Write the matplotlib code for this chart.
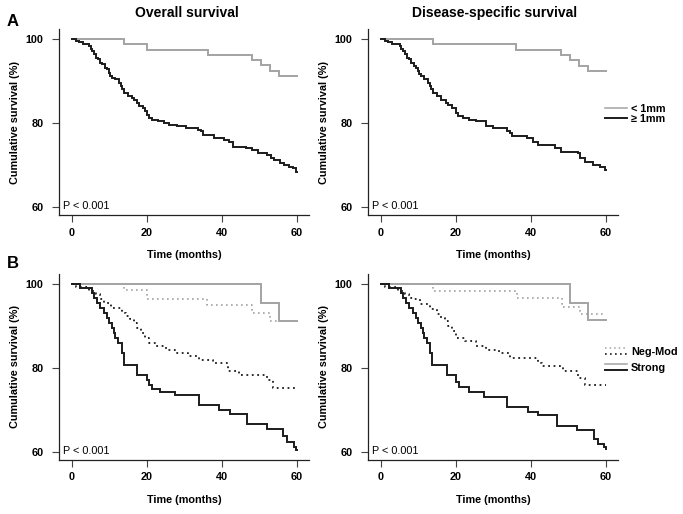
import matplotlib
matplotlib.use("Agg")
import numpy as np
import matplotlib.pyplot as plt
from matplotlib.lines import Line2D
from matplotlib.legend_handler import HandlerBase

plt.rcParams['font.family'] = ['Liberation Sans', 'DejaVu Sans']

END_TIME = 60

# ---- panel A, overall survival ----
os_thin_t = [0, 14.0, 20.0, 36.2, 48.0, 50.5, 52.7, 55.1]
os_thin_s = [100, 98.8, 97.5, 96.3, 95.0, 93.8, 92.5, 91.2]
os_thick_t = [0, 1.0, 2.0, 3.0, 4.5, 5.0, 5.5, 6.0, 6.5, 7.0, 7.5, 8.0, 8.8, 9.3, 9.8,
              10.3, 10.8, 11.5, 12.5, 13.0, 13.5, 14.0, 15.0, 16.0, 16.5, 17.5, 18.0, 19.0,
              19.5, 20.0, 20.5, 21.5, 23.0, 24.5, 26.0, 28.0, 30.5, 33.5, 34.5, 35.0, 38.0,
              40.5, 42.0, 43.0, 46.5, 48.0, 49.5, 52.0, 53.0, 54.0, 55.5, 56.5, 58.0, 59.0, 59.8]
os_thick_s = [100, 99.6, 99.2, 98.8, 98.4, 97.6, 97.2, 96.4, 95.6, 95.2, 94.4, 94.0, 93.2,
              92.8, 92.0, 91.2, 90.8, 90.4, 89.6, 88.8, 88.0, 87.2, 86.4, 86.0, 85.6, 84.8,
              84.0, 83.6, 82.8, 82.0, 81.2, 80.8, 80.4, 80.0, 79.6, 79.2, 78.8, 78.4, 78.0,
              77.2, 76.4, 76.0, 75.6, 74.4, 74.0, 73.6, 72.8, 72.4, 71.6, 71.2, 70.4, 70.0,
              69.6, 69.2, 68.4]

# ---- panel A, disease-specific survival ----
dss_thin_t = [0, 13.9, 36.1, 48.1, 50.5, 52.9, 55.1]
dss_thin_s = [100, 98.8, 97.5, 96.3, 95.0, 93.7, 92.4]
dss_thick_t = [0, 1.0, 2.0, 3.0, 5.0, 5.5, 6.0, 6.5, 7.0, 7.5, 8.0, 8.8, 9.3, 9.8, 10.3,
               10.8, 11.5, 12.5, 13.0, 13.5, 14.0, 15.0, 16.0, 17.5, 18.0, 19.0, 20.0, 20.5,
               22.0, 23.5, 25.5, 28.0, 30.0, 33.5, 34.5, 35.0, 39.0, 40.5, 42.0, 46.5, 48.0,
               52.5, 53.0, 54.5, 56.5, 58.5, 59.8]
dss_thick_s = [100, 99.6, 99.2, 98.8, 98.4, 97.6, 97.2, 96.4, 95.6, 95.2, 94.4, 93.6, 93.2,
               92.4, 91.6, 91.2, 90.4, 89.6, 88.8, 88.0, 87.2, 86.4, 85.6, 84.8, 84.4, 83.6,
               82.4, 81.6, 81.2, 80.8, 80.4, 79.2, 78.8, 78.0, 77.6, 76.8, 76.4, 75.6, 74.8,
               74.0, 73.2, 72.8, 71.6, 70.8, 70.0, 69.6, 68.8]

# ---- panel B, overall survival ----
os_strong_thin_t = [0, 50.5, 55.1]
os_strong_thin_s = [100, 95.6, 91.3]
os_neg_thin_t = [0, 13.8, 20.0, 36.0, 48.0, 52.8]
os_neg_thin_s = [100, 98.7, 96.4, 95.0, 93.1, 91.2]
os_neg_thick_t = [0, 1.0, 4.5, 6.5, 7.5, 8.5, 10.5, 13.5, 14.5, 15.5, 16.5, 17.5, 18.5,
                  19.5, 20.5, 22.5, 25.0, 27.5, 31.0, 34.0, 37.5, 41.5, 44.5, 52.0, 53.5]
os_neg_thick_s = [100, 99.2, 98.4, 97.6, 96.4, 95.6, 94.4, 93.2, 92.4, 91.6, 90.8, 89.6,
                  88.4, 87.2, 86.0, 85.2, 84.4, 83.6, 82.8, 82.0, 81.2, 79.2, 78.4, 77.2, 75.2]
os_strong_thick_t = [0, 2.2, 5.3, 6.0, 6.7, 7.6, 8.5, 9.3, 10.0, 10.7, 11.2, 11.6, 12.4,
                     13.3, 14.0, 17.3, 20.0, 20.5, 21.3, 23.6, 27.6, 33.8, 39.1, 42.2, 46.7,
                     52.0, 56.4, 57.3, 59.1, 59.8]
os_strong_thick_s = [100, 99.1, 97.9, 96.7, 95.5, 94.3, 93.1, 91.9, 90.7, 89.5, 88.3, 87.1,
                     85.9, 83.5, 80.7, 78.3, 77.1, 75.9, 75.1, 74.3, 73.5, 71.1, 69.9, 69.1,
                     66.7, 65.5, 63.9, 62.3, 61.1, 60.4]

# ---- panel B, disease-specific survival ----
dss_strong_thin_t = [0, 50.5, 55.1]
dss_strong_thin_s = [100, 95.6, 91.4]
dss_neg_thin_t = [0, 13.9, 36.3, 48.3, 53.2]
dss_neg_thin_s = [100, 98.4, 96.6, 94.6, 92.8]
dss_neg_thick_t = [0, 1.0, 4.5, 6.5, 7.5, 8.5, 10.5, 13.0, 15.0, 16.0, 17.0, 18.0, 19.0,
                   20.0, 22.5, 25.5, 28.0, 31.5, 34.5, 42.0, 43.0, 48.5, 52.5, 54.5]
dss_neg_thick_s = [100, 99.2, 98.4, 97.6, 96.8, 96.4, 95.2, 94.0, 92.8, 92.0, 91.2, 90.0,
                   88.8, 87.2, 86.4, 85.2, 84.4, 83.6, 82.4, 81.2, 80.4, 79.2, 77.6, 76.0]
dss_strong_thick_t = [0, 2.2, 5.3, 6.0, 6.7, 7.6, 8.5, 9.3, 10.0, 10.7, 11.2, 11.6, 12.4,
                      13.2, 13.7, 17.7, 20.0, 20.8, 23.4, 27.4, 33.6, 39.3, 42.0, 46.9, 52.3,
                      56.7, 58.0, 59.4, 59.9]
dss_strong_thick_s = [100, 99.1, 97.9, 96.7, 95.5, 94.3, 93.1, 91.9, 90.7, 89.5, 88.3, 87.1,
                      85.9, 83.5, 80.7, 78.3, 76.7, 75.5, 74.3, 73.1, 70.7, 69.5, 68.7, 66.3,
                      65.2, 63.2, 62.0, 61.2, 60.8]

titles = ['Overall survival', 'Disease-specific survival']
legend_a = ['< 1mm', '\u2265 1mm']
legend_b = ['Neg-Mod', 'Strong']
p_text = 'P < 0.001'

GREY = '#a3a3a3'
DARK = '#1c1c1c'
DOTS = (0, (1, 2))
W, H = 683, 514


def km(ax, t, s, color, ls='-', lw=1.4):
    tt = np.append(t, END_TIME)
    ss = np.append(s, s[-1])
    ax.step(tt, ss, where='post', color=color, ls=ls, lw=lw, solid_joinstyle='miter')


def style(ax):
    ax.set_xlim(-3.4, 63.2)
    ax.set_ylim(58.1, 102.4)
    ax.set_xticks([0, 20, 40, 60])
    ax.set_yticks([60, 80, 100])
    for side in ['top', 'right']:
        ax.spines[side].set_visible(False)
    for side in ['left', 'bottom']:
        ax.spines[side].set_linewidth(0.9)
        ax.spines[side].set_color('#222222')
    ax.tick_params(direction='out', length=5, width=0.8, color='#444444',
                   labelsize=7.8)
    ax.tick_params(axis='y', pad=6)
    ax.tick_params(axis='x', pad=4)
    for lab in ax.get_xticklabels() + ax.get_yticklabels():
        lab.set_fontweight('bold')
    ax.set_xlabel('Time (months)', fontsize=7.8, fontweight='bold')
    ax.set_ylabel('Cumulative survival (%)', fontsize=7.8, fontweight='bold')
    ax.xaxis.set_label_coords(0.5, -0.19)
    ax.yaxis.set_label_coords(-0.156, 0.5)
    ax.text(0.016, 0.03, p_text, transform=ax.transAxes, fontsize=7.8, va='baseline')


class Stacked(HandlerBase):
    def create_artists(self, legend, orig_handle, xdescent, ydescent, width,
                       height, fontsize, trans):
        arts = []
        yc = height / 2 - ydescent
        offs = [2.0, -2.0]
        for h, off in zip(orig_handle, offs):
            ln = Line2D([-xdescent, width - xdescent], [yc + off, yc + off])
            ln.update_from(h)
            ln.set_transform(trans)
            arts.append(ln)
        return arts


fig = plt.figure(figsize=(W / 100, H / 100), dpi=100)

lefts = [59, 368]
tops = [29, 274]
axes = {}
for r, top in enumerate(tops):
    for c, left in enumerate(lefts):
        ax = fig.add_axes([left / W, 1 - (top + 186) / H, 250 / W, 186 / H])
        axes[(r, c)] = ax

km(axes[(0, 0)], os_thin_t, os_thin_s, GREY)
km(axes[(0, 0)], os_thick_t, os_thick_s, DARK)
km(axes[(0, 1)], dss_thin_t, dss_thin_s, GREY)
km(axes[(0, 1)], dss_thick_t, dss_thick_s, DARK)

km(axes[(1, 0)], os_strong_thin_t, os_strong_thin_s, GREY)
km(axes[(1, 0)], os_neg_thin_t, os_neg_thin_s, GREY, DOTS, 1.2)
km(axes[(1, 0)], os_neg_thick_t, os_neg_thick_s, DARK, DOTS, 1.3)
km(axes[(1, 0)], os_strong_thick_t, os_strong_thick_s, DARK)
km(axes[(1, 1)], dss_strong_thin_t, dss_strong_thin_s, GREY)
km(axes[(1, 1)], dss_neg_thin_t, dss_neg_thin_s, GREY, DOTS, 1.2)
km(axes[(1, 1)], dss_neg_thick_t, dss_neg_thick_s, DARK, DOTS, 1.3)
km(axes[(1, 1)], dss_strong_thick_t, dss_strong_thick_s, DARK)

for ax in axes.values():
    style(ax)

# legends
h_thin = Line2D([], [], color=GREY, lw=1.1)
h_thick = Line2D([], [], color=DARK, lw=1.4)
leg = axes[(0, 1)].legend([h_thin, h_thick], legend_a, loc='center left',
                          bbox_to_anchor=(0.948, 0.543), frameon=False, borderpad=0,
                          borderaxespad=0, handlelength=2.0, handletextpad=0.4,
                          labelspacing=0.05, prop={'weight': 'bold', 'size': 7.8})

hb_neg = (Line2D([], [], color=GREY, lw=1.1, ls=DOTS), Line2D([], [], color=DARK, lw=1.2, ls=DOTS))
hb_str = (Line2D([], [], color=GREY, lw=1.1), Line2D([], [], color=DARK, lw=1.4))
axes[(1, 1)].legend([hb_neg, hb_str], legend_b, loc='center left',
                    bbox_to_anchor=(0.948, 0.54), frameon=False, borderpad=0,
                    borderaxespad=0, handlelength=2.0, handletextpad=0.4,
                    labelspacing=0.5, handleheight=0.9,
                    handler_map={tuple: Stacked()},
                    prop={'weight': 'bold', 'size': 7.8})

# titles and panel letters
fig.text(187 / W, 1 - 17 / H, titles[0], ha='center', va='baseline',
         fontsize=10, fontweight='bold')
fig.text(495 / W, 1 - 17 / H, titles[1], ha='center', va='baseline',
         fontsize=10, fontweight='bold')
fig.text(7 / W, 1 - 26 / H, 'A', ha='left', va='baseline', fontsize=12, fontweight='bold')
fig.text(7 / W, 1 - 268 / H, 'B', ha='left', va='baseline', fontsize=12, fontweight='bold')

fig.savefig('out.png', dpi=100, facecolor='white')
